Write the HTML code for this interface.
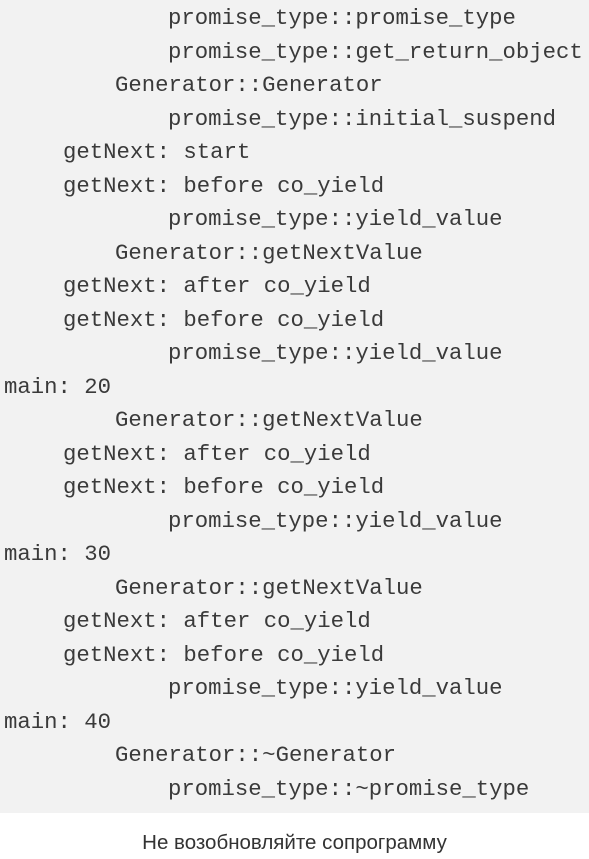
<!DOCTYPE html>
<html><head><meta charset="utf-8"><style>
body{margin:0;width:589px;height:859px;background:#fff;position:relative;overflow:hidden}
.box{position:absolute;left:0;top:0;width:589px;height:813px;background:#f2f2f2}
.l{position:absolute;font-family:"Liberation Mono",monospace;font-size:22.3px;color:#3a3a3a;white-space:pre;line-height:33.5px}
.cap{position:absolute;left:0;width:589px;top:829px;line-height:28px;text-align:center;font-family:"Liberation Sans","DejaVu Sans",sans-serif;font-size:20.5px;color:#333}
</style></head><body>
<div class="box"></div>
<div class="l" style="left:168px;top:2px">promise_type::promise_type</div>
<div class="l" style="left:168px;top:35.5px">promise_type::get_return_object</div>
<div class="l" style="left:115px;top:69px">Generator::Generator</div>
<div class="l" style="left:168px;top:102.5px">promise_type::initial_suspend</div>
<div class="l" style="left:63px;top:136px">getNext: start</div>
<div class="l" style="left:63px;top:169.5px">getNext: before co_yield</div>
<div class="l" style="left:168px;top:203px">promise_type::yield_value</div>
<div class="l" style="left:115px;top:236.5px">Generator::getNextValue</div>
<div class="l" style="left:63px;top:270px">getNext: after co_yield</div>
<div class="l" style="left:63px;top:303.5px">getNext: before co_yield</div>
<div class="l" style="left:168px;top:337px">promise_type::yield_value</div>
<div class="l" style="left:4px;top:370.5px">main: 20</div>
<div class="l" style="left:115px;top:404px">Generator::getNextValue</div>
<div class="l" style="left:63px;top:437.5px">getNext: after co_yield</div>
<div class="l" style="left:63px;top:471px">getNext: before co_yield</div>
<div class="l" style="left:168px;top:504.5px">promise_type::yield_value</div>
<div class="l" style="left:4px;top:538px">main: 30</div>
<div class="l" style="left:115px;top:571.5px">Generator::getNextValue</div>
<div class="l" style="left:63px;top:605px">getNext: after co_yield</div>
<div class="l" style="left:63px;top:638.5px">getNext: before co_yield</div>
<div class="l" style="left:168px;top:672px">promise_type::yield_value</div>
<div class="l" style="left:4px;top:705.5px">main: 40</div>
<div class="l" style="left:115px;top:739px">Generator::~Generator</div>
<div class="l" style="left:168px;top:772.5px">promise_type::~promise_type</div>
<div class="cap">Не возобновляйте сопрограмму</div>
</body></html>
